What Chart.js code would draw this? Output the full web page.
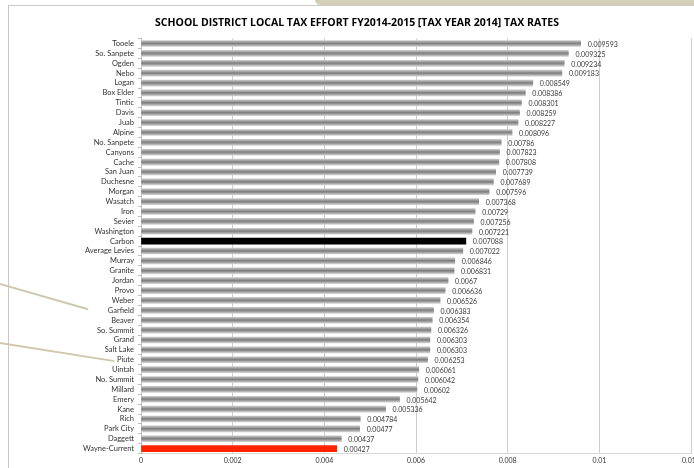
<!DOCTYPE html>
<html>
<head>
<meta charset="utf-8">
<script src="https://cdn.jsdelivr.net/npm/chart.js@4"></script>
<style>
html,body{margin:0;padding:0;background:#fff;overflow:hidden;width:694px;height:468px;}
#wrap{position:relative;width:694px;height:468px;overflow:hidden;}
#frame{position:absolute;left:8px;top:5px;width:720px;height:500px;border-left:1px solid #c8c8c8;border-top:1px solid #c8c8c8;}
#deco{position:absolute;left:315px;top:0;width:400px;height:5px;background:#d3ceb6;border-bottom-left-radius:6px;}
.ln{position:absolute;height:1.5px;background:#cfc8ad;transform-origin:0 0;}
canvas{position:absolute;left:0;top:0;}
</style>
</head>
<body>
<div id="wrap">
<div id="deco"></div>
<div id="frame"></div>
<div class="ln" style="left:0;top:283px;width:92px;transform:rotate(16deg);"></div>
<div class="ln" style="left:0;top:342px;width:116px;transform:rotate(9deg);"></div>
<canvas id="c" width="720" height="468"></canvas>
</div>
<script>
const categories = ["Tooele","So. Sanpete","Ogden","Nebo","Logan","Box Elder","Tintic","Davis","Juab","Alpine","No. Sanpete","Canyons","Cache","San Juan","Duchesne","Morgan","Wasatch","Iron","Sevier","Washington","Carbon","Average Levies","Murray","Granite","Jordan","Provo","Weber","Garfield","Beaver","So. Summit","Grand","Salt Lake","Piute","Uintah","No. Summit","Millard","Emery","Kane","Rich","Park City","Daggett","Wayne-Current"];
const taxRates = [0.009593,0.009325,0.009234,0.009183,0.008549,0.008386,0.008301,0.008259,0.008227,0.008096,0.00786,0.007823,0.007808,0.007739,0.007689,0.007596,0.007368,0.00729,0.007256,0.007221,0.007088,0.007022,0.006846,0.006831,0.0067,0.006636,0.006526,0.006383,0.006354,0.006326,0.006303,0.006303,0.006253,0.006061,0.006042,0.00602,0.005642,0.005336,0.004784,0.00477,0.00437,0.00427];
const xTicks = [0,0.002,0.004,0.006,0.008,0.01,0.012];
const highlight = {"Carbon":"#000000","Wayne-Current":"#ff2400"};

const fontFam = "Lato, 'Open Sans', sans-serif";

const shadePlugin = {
  id:'shade',
  beforeDatasetsDraw(chart){
    const meta = chart.getDatasetMeta(0);
    const ctx = chart.ctx;
    meta.data.forEach((el,i)=>{
      const cat = categories[i];
      if (highlight[cat]) { el.options.backgroundColor = highlight[cat]; return; }
      const h = el.height || 6;
      const g = ctx.createLinearGradient(0, el.y - h/2, 0, el.y + h/2);
      g.addColorStop(0,'#c8c8c8');
      g.addColorStop(0.45,'#808080');
      g.addColorStop(0.6,'#8c8c8c');
      g.addColorStop(1,'#d2d2d2');
      el.options.backgroundColor = g;
    });
  },
  afterDatasetsDraw(chart){
    const meta = chart.getDatasetMeta(0);
    const ctx = chart.ctx;
    ctx.save();
    ctx.font = "7px " + fontFam;
    ctx.fillStyle = '#3a3a3a';
    ctx.textBaseline = 'middle';
    ctx.textAlign = 'left';
    meta.data.forEach((el,i)=>{
      ctx.fillText(String(taxRates[i]), el.x + 7, el.y + 1);
    });
    ctx.restore();
  }
};

new Chart(document.getElementById('c'), {
  type:'bar',
  data:{
    labels:categories,
    datasets:[{
      data:taxRates,
      backgroundColor:(c)=>'#999999',
      barThickness:6,
      borderWidth:0
    }]
  },
  options:{
    indexAxis:'y',
    responsive:false,
    animation:false,
    events:[],
    layout:{padding:{left:23,right:29,top:0,bottom:0}},
    plugins:{
      legend:{display:false},
      tooltip:{enabled:false},
      title:{
        display:true,
        text:'SCHOOL DISTRICT LOCAL TAX EFFORT FY2014-2015 [TAX YEAR 2014] TAX RATES',
        color:'#000',
        font:{family:"'Open Sans', sans-serif", size:10.5, weight:'bold'},
        padding:{top:17,bottom:9}
      }
    },
    scales:{
      x:{
        min:0,max:0.012,
        afterBuildTicks(s){ s.ticks = xTicks.map(v=>({value:v})); },
        ticks:{
          color:'#333',
          font:{family:fontFam,size:7},
          padding:3,
          maxRotation:0,
          callback:(v)=>String(+(+v).toFixed(3))
        },
        grid:{color:'#cdcdcd',lineWidth:1,drawTicks:false},
        border:{display:true,color:'#d9d9d9'}
      },
      y:{
        afterFit(s){ s.width = 118; },
        ticks:{
          color:'#333',
          font:{family:fontFam,size:7.5},
          padding:4,
          autoSkip:false
        },
        grid:{offset:true,drawOnChartArea:false,drawTicks:true,tickLength:3,color:'#bdbdbd'},
        border:{display:true,color:'#bdbdbd'}
      }
    }
  },
  plugins:[shadePlugin]
});
</script>
</body>
</html>
